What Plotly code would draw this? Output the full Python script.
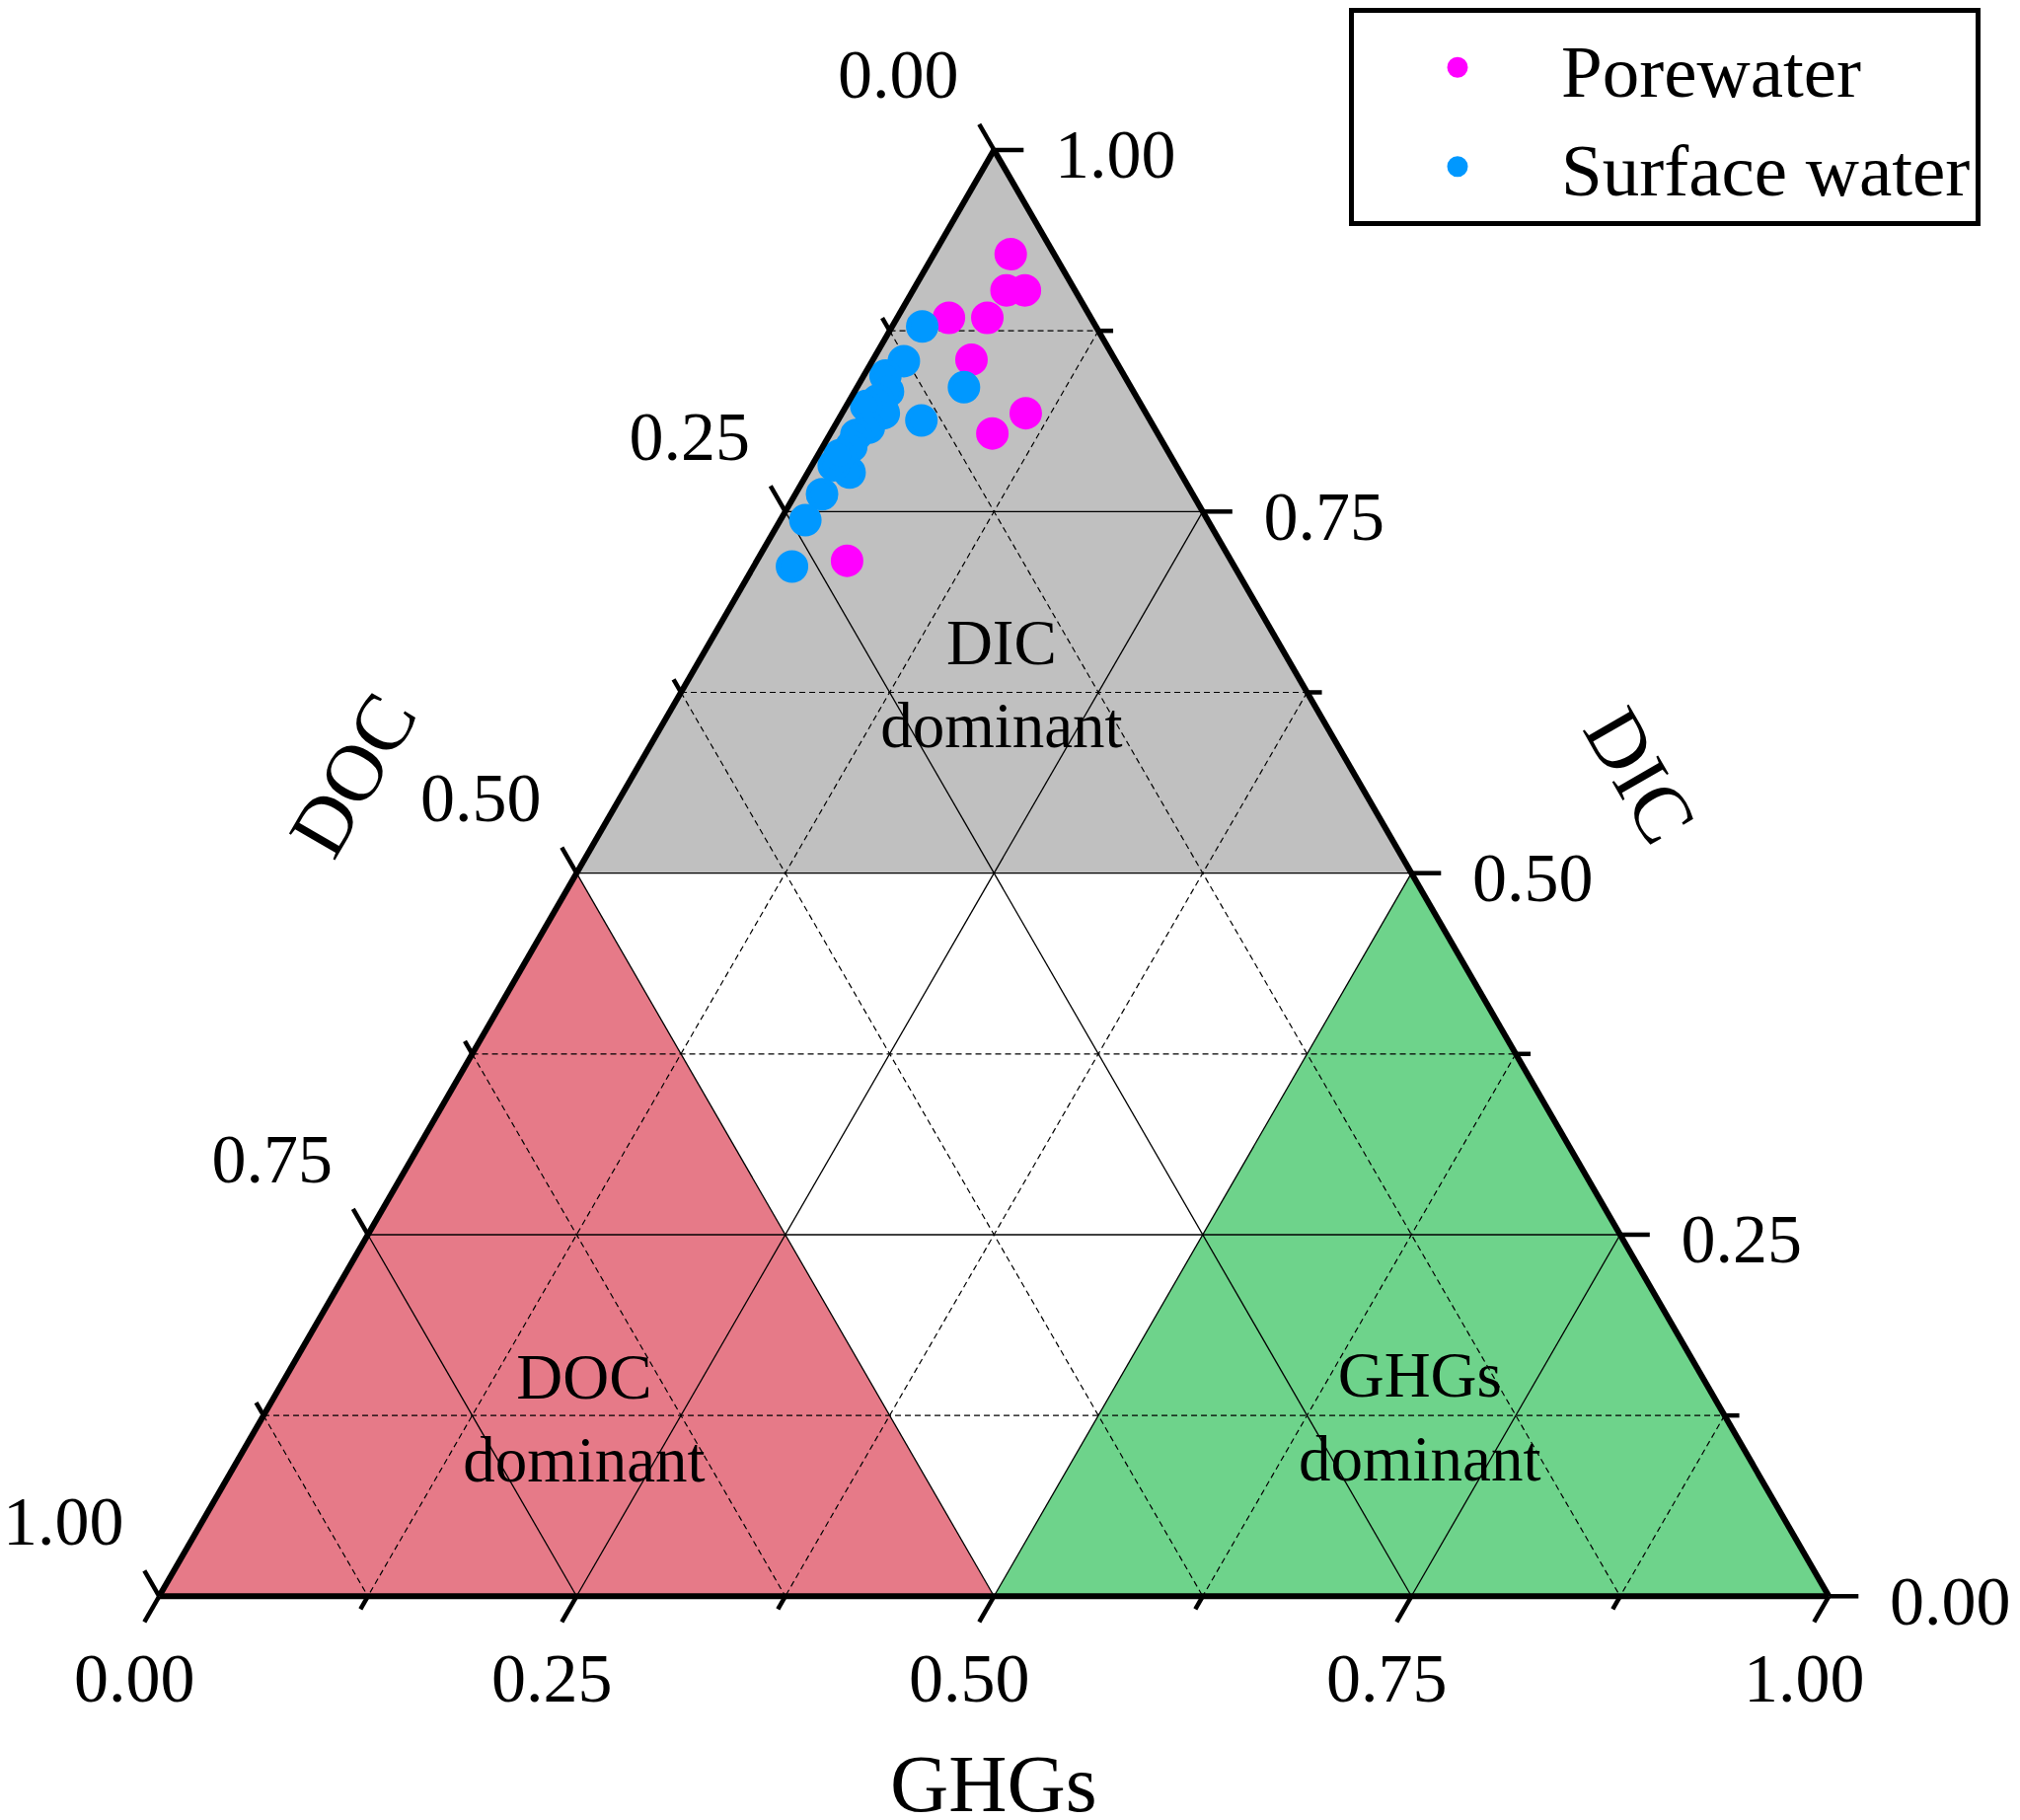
import plotly.graph_objects as go

# ternary axes: a = DIC (top corner), b = DOC (bottom left), c = GHGs (bottom right)

# Porewater samples, fraction of total carbon
pore_dic = [0.928, 0.903, 0.903, 0.884, 0.884, 0.855, 0.818, 0.804, 0.716]
pore_doc = [0.026, 0.041, 0.030, 0.085, 0.062, 0.086, 0.072, 0.099, 0.230]
pore_ghg = [0.046, 0.056, 0.067, 0.031, 0.054, 0.059, 0.110, 0.097, 0.054]

# Surface water samples
surf_dic = [0.878, 0.854, 0.836, 0.813, 0.844, 0.833, 0.827, 0.818, 0.823,
            0.808, 0.803, 0.795, 0.777, 0.782, 0.789, 0.762, 0.744, 0.712]
surf_doc = [0.104, 0.127, 0.100, 0.137, 0.143, 0.147, 0.156, 0.157, 0.165,
            0.171, 0.181, 0.188, 0.198, 0.205, 0.198, 0.222, 0.241, 0.265]
surf_ghg = [0.018, 0.019, 0.064, 0.050, 0.013, 0.020, 0.017, 0.025, 0.012,
            0.021, 0.016, 0.017, 0.025, 0.013, 0.013, 0.016, 0.015, 0.023]

# tick positions (every 1/8) and labelled ticks (every 1/4)
tick_vals = [0, 0.125, 0.25, 0.375, 0.5, 0.625, 0.75, 0.875, 1.0]
label_vals = [0, 0.25, 0.5, 0.75, 1.0]
label_text = ["0.00", "0.25", "0.50", "0.75", "1.00"]
major_grid = [0.25, 0.5, 0.75]
minor_grid = [0.125, 0.375, 0.625, 0.875]

# dominance zones (corners as DIC, DOC, GHGs)
zone_names = ["DIC dominant", "DOC dominant", "GHGs dominant"]
zone_dic = [[1, 0.5, 0.5], [0.5, 0, 0], [0.5, 0, 0]]
zone_doc = [[0, 0.5, 0], [0.5, 1, 0.5], [0, 0.5, 0]]
zone_ghg = [[0, 0, 0.5], [0, 0, 0.5], [0.5, 0.5, 1]]
zone_colors = ["#c0c0c0", "#e67a88", "#6ed38b"]
zone_label = ["DIC<br>dominant", "DOC<br>dominant", "GHGs<br>dominant"]
zone_label_dic = [0.627, 0.119, 0.120]
zone_label_doc = [0.182, 0.686, 0.185]
zone_label_ghg = [0.191, 0.195, 0.695]

FONT = "Liberation Serif"
W, H = 2031, 1828
# where the triangle sits on the figure (px)
TRI_LEFT, TRI_BOTTOM, SIDE = 153.3, 1609.3, 1692.0
R3 = 0.8660254


def tern_xy(a, b, c):
    # ternary -> overlay cartesian (units of triangle side)
    return c + a / 2, a * R3


def grid_lines(values):
    a, b, c = [], [], []
    for v in values:
        a += [v, v, None]
        b += [1 - v, 0, None]
        c += [0, 1 - v, None]
        a += [1 - v, 0, None]
        b += [v, v, None]
        c += [0, 1 - v, None]
        a += [1 - v, 0, None]
        b += [0, 1 - v, None]
        c += [v, v, None]
    return a, b, c


fig = go.Figure()

for i in range(len(zone_names)):
    fig.add_trace(go.Scatterternary(
        a=zone_dic[i], b=zone_doc[i], c=zone_ghg[i],
        mode="lines", fill="toself", fillcolor=zone_colors[i],
        line=dict(width=0, color=zone_colors[i]),
        hoverinfo="skip", showlegend=False
    ))

ga, gb, gc = grid_lines(major_grid)
fig.add_trace(go.Scatterternary(
    a=ga, b=gb, c=gc, mode="lines",
    line=dict(color="black", width=1.3),
    hoverinfo="skip", showlegend=False
))
ga, gb, gc = grid_lines(minor_grid)
fig.add_trace(go.Scatterternary(
    a=ga, b=gb, c=gc, mode="lines",
    line=dict(color="black", width=1.2, dash="6px,4px"),
    hoverinfo="skip", showlegend=False
))

fig.add_trace(go.Scatterternary(
    a=zone_label_dic, b=zone_label_doc, c=zone_label_ghg,
    mode="text", text=zone_label, textposition="middle center",
    textfont=dict(family=FONT, size=65, color="black"),
    hoverinfo="skip", showlegend=False
))

fig.add_trace(go.Scatterternary(
    a=pore_dic, b=pore_doc, c=pore_ghg, mode="markers", name="Porewater",
    marker=dict(size=28, color="#ff00ff", line=dict(width=5, color="#ff00ff"))
))
fig.add_trace(go.Scatterternary(
    a=surf_dic, b=surf_doc, c=surf_ghg, mode="markers", name="Surface water",
    marker=dict(size=28, color="#0098ff", line=dict(width=5, color="#0098ff"))
))

# Origin-style ticks and labels: drawn on a hidden cartesian overlay,
# ticks point outward along the grid direction
edges = [
    # (edge point for value v, outward direction, marker, angle, label offset px)
    (lambda v: tern_xy(1 - v, v, 0), (-0.5, R3), "line-ns", -30, (-97, -70)),   # DOC, left
    (lambda v: tern_xy(0, 1 - v, v), (-0.5, -R3), "line-ns", 30, (-25, 89)),    # GHGs, bottom
    (lambda v: tern_xy(v, 0, 1 - v), (1.0, 0.0), "line-ew", 0, (123, 11)),      # DIC, right
]
for point, (ux, uy), sym, ang, (ox, oy) in edges:
    tx, ty, ts = [], [], []
    for v in tick_vals:
        length = 30 if v in label_vals else 15
        x0, y0 = point(v)
        tx.append(x0 + ux * length / 2 / SIDE)
        ty.append(y0 + uy * length / 2 / SIDE)
        ts.append(length / 1.4)
    fig.add_trace(go.Scatter(
        x=tx, y=ty, mode="markers", cliponaxis=False,
        marker=dict(symbol=sym, size=ts, angle=ang, opacity=1, color="black",
                    line=dict(width=4.5, color="black")),
        hoverinfo="skip", showlegend=False
    ))
    lx, ly = [], []
    for v in label_vals:
        x0, y0 = point(v)
        lx.append(x0 + ox / SIDE)
        ly.append(y0 - oy / SIDE)
    fig.add_trace(go.Scatter(
        x=lx, y=ly, mode="text", text=label_text, cliponaxis=False,
        textposition="middle center",
        textfont=dict(family=FONT, size=70, color="black"),
        hoverinfo="skip", showlegend=False
    ))

axis_style = dict(showgrid=False, showticklabels=False, ticks="",
                  linecolor="black", linewidth=6, min=0, title=dict(text=""))

tri_h = SIDE * R3
yc = 1 - (TRI_BOTTOM - tri_h / 2) / H
hh = tri_h / 2 / H * 1.003

fig.update_layout(
    width=W, height=H,
    margin=dict(l=0, r=0, t=0, b=0),
    paper_bgcolor="white", plot_bgcolor="rgba(0,0,0,0)",
    font=dict(family=FONT, color="black"),
    ternary=dict(
        sum=1,
        domain=dict(x=[TRI_LEFT / W, (TRI_LEFT + SIDE) / W], y=[yc - hh, yc + hh]),
        bgcolor="white",
        aaxis=axis_style, baxis=axis_style, caxis=axis_style
    ),
    xaxis=dict(visible=False, fixedrange=True, domain=[0, 1],
               range=[-TRI_LEFT / SIDE, (W - TRI_LEFT) / SIDE]),
    yaxis=dict(visible=False, fixedrange=True, domain=[0, 1],
               range=[-(H - TRI_BOTTOM) / SIDE, TRI_BOTTOM / SIDE]),
    legend=dict(
        x=1359 / W, y=1, xanchor="left", yanchor="top",
        bgcolor="white", bordercolor="black", borderwidth=5,
        font=dict(family=FONT, size=75), itemwidth=200
    ),
    annotations=[
        dict(text="DOC", x=349 / W, y=1 - 777 / H, xref="paper", yref="paper",
             xanchor="center", yanchor="middle",
             showarrow=False, textangle=-60, font=dict(size=82)),
        dict(text="DIC", x=1654 / W, y=1 - 777 / H, xref="paper", yref="paper",
             xanchor="center", yanchor="middle",
             showarrow=False, textangle=60, font=dict(size=82)),
        dict(text="GHGs", x=999 / W, y=1 - 1799 / H, xref="paper", yref="paper",
             xanchor="center", yanchor="middle",
             showarrow=False, font=dict(size=82)),
    ]
)

fig.write_html("out.html")
